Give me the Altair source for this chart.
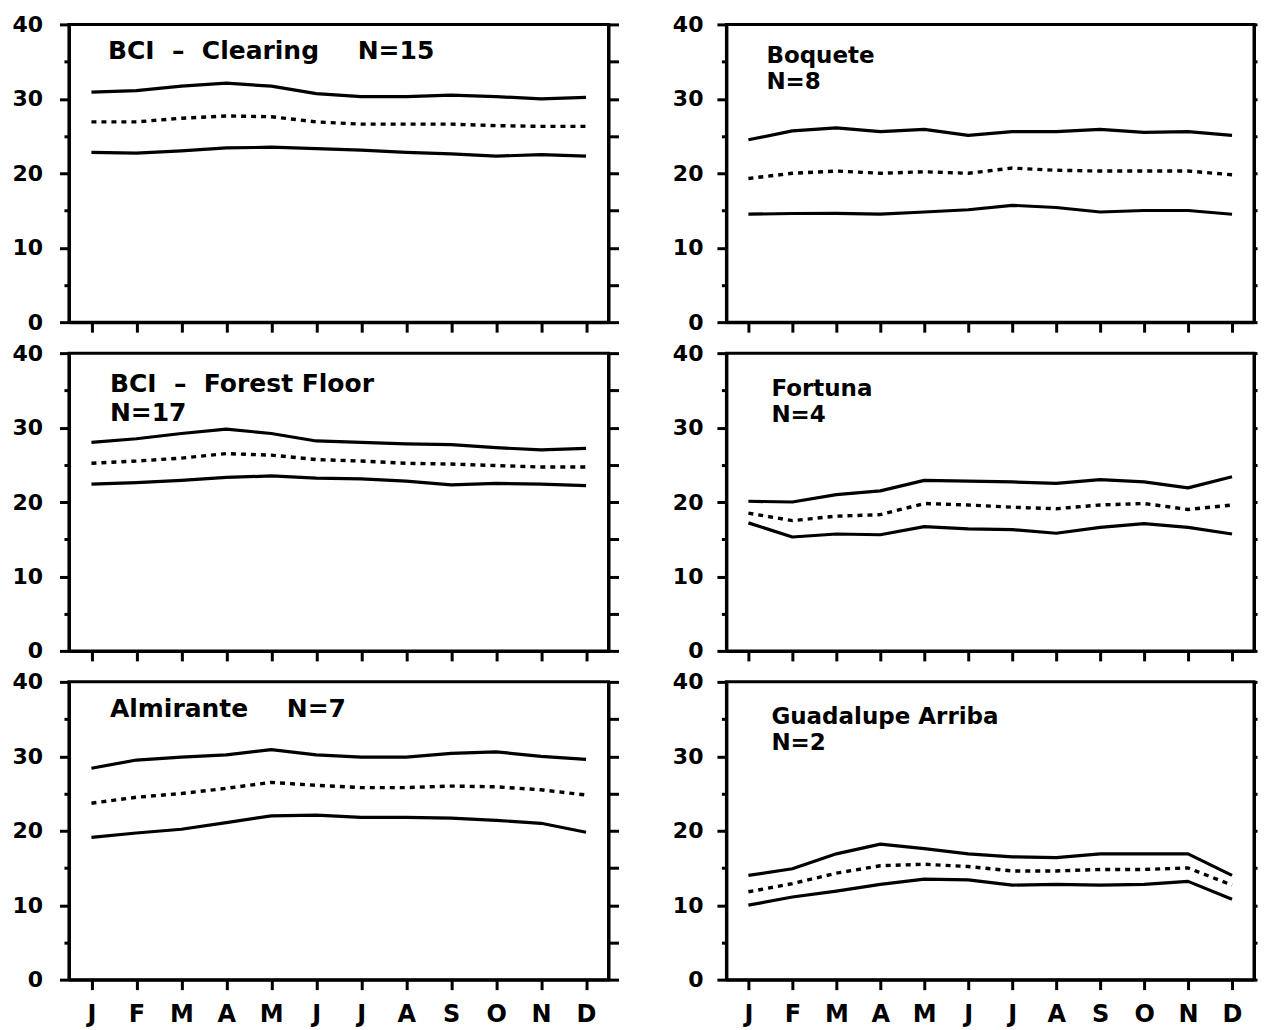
import altair as alt
import pandas as pd

# ---------------- data ----------------
MONTHS = [1, 2, 3, 4, 5, 6, 7, 8, 9, 10, 11, 12]
MONTH_LABELS = ["J", "F", "M", "A", "M", "J", "J", "A", "S", "O", "N", "D"]
Y_TICKS = [0, 5, 10, 15, 20, 25, 30, 35, 40]

clearing_max = [30.9, 31.1, 31.7, 32.1, 31.7, 30.7, 30.3, 30.3, 30.5, 30.3, 30.0, 30.2]
clearing_mean = [26.9, 26.9, 27.4, 27.7, 27.6, 26.9, 26.6, 26.6, 26.6, 26.4, 26.3, 26.3]
clearing_min = [22.8, 22.7, 23.0, 23.4, 23.5, 23.3, 23.1, 22.8, 22.6, 22.3, 22.5, 22.3]

forest_max = [28.0, 28.5, 29.2, 29.8, 29.2, 28.2, 28.0, 27.8, 27.7, 27.3, 27.0, 27.2]
forest_mean = [25.2, 25.5, 25.9, 26.5, 26.3, 25.7, 25.5, 25.2, 25.1, 24.9, 24.7, 24.7]
forest_min = [22.4, 22.6, 22.9, 23.3, 23.5, 23.2, 23.1, 22.8, 22.3, 22.5, 22.4, 22.2]

almirante_max = [28.4, 29.5, 29.9, 30.2, 30.9, 30.2, 29.9, 29.9, 30.4, 30.6, 30.0, 29.6]
almirante_mean = [23.7, 24.5, 25.0, 25.7, 26.5, 26.1, 25.8, 25.8, 26.0, 25.9, 25.5, 24.8]
almirante_min = [19.1, 19.7, 20.2, 21.1, 22.0, 22.1, 21.8, 21.8, 21.7, 21.4, 21.0, 19.8]

boquete_max = [24.5, 25.7, 26.1, 25.6, 25.9, 25.1, 25.6, 25.6, 25.9, 25.5, 25.6, 25.1]
boquete_mean = [19.3, 20.0, 20.3, 20.0, 20.2, 20.0, 20.7, 20.4, 20.3, 20.3, 20.3, 19.8]
boquete_min = [14.5, 14.6, 14.6, 14.5, 14.8, 15.1, 15.7, 15.4, 14.8, 15.0, 15.0, 14.5]

fortuna_max = [20.1, 20.0, 21.0, 21.5, 22.9, 22.8, 22.7, 22.5, 23.0, 22.7, 21.9, 23.4]
fortuna_mean = [18.5, 17.5, 18.1, 18.3, 19.8, 19.6, 19.3, 19.1, 19.6, 19.8, 19.0, 19.6]
fortuna_min = [17.2, 15.3, 15.7, 15.6, 16.7, 16.4, 16.3, 15.8, 16.6, 17.1, 16.6, 15.7]

guadalupe_max = [14.0, 14.9, 16.9, 18.2, 17.6, 16.9, 16.5, 16.4, 16.9, 16.9, 16.9, 14.0]
guadalupe_mean = [11.8, 12.9, 14.3, 15.3, 15.5, 15.2, 14.6, 14.6, 14.8, 14.8, 15.0, 12.7]
guadalupe_min = [10.0, 11.1, 11.9, 12.8, 13.5, 13.4, 12.7, 12.8, 12.7, 12.8, 13.2, 10.8]

NB = "\u00a0"
STATION_NAMES = ["BCI" + NB * 2 + "\u2013" + NB * 2 + "Clearing",
                 "BCI" + NB * 2 + "\u2013" + NB * 2 + "Forest" + NB + "Floor",
                 "Almirante", "Boquete", "Fortuna", "Guadalupe Arriba"]
STATION_N = ["N=15", "N=17", "N=7", "N=8", "N=4", "N=2"]

FONT = "DejaVu Sans"
LABEL_EXPR_X = "[" + ",".join("'%s'" % m for m in MONTH_LABELS) + "][datum.value - 1]"


def panel(maxv, meanv, minv, texts, font_size, show_x_labels, width, height,
          right_tick, y_label_pad):
    solid_df = pd.DataFrame({
        "month": MONTHS + MONTHS,
        "temp": maxv + minv,
        "series": ["max"] * 12 + ["min"] * 12,
    })
    mean_df = pd.DataFrame({"month": MONTHS, "temp": meanv})

    x_scale = alt.Scale(domain=[0.5, 12.5], nice=False, zero=False)
    x_axis = alt.Axis(
        values=MONTHS, title=None, grid=False, tickSize=10, tickWidth=3,
        domainWidth=3, labels=show_x_labels, labelExpr=LABEL_EXPR_X,
        labelFontSize=24, labelPadding=13,
    )
    y_scale = alt.Scale(domain=[0, 40], nice=False, zero=True)

    solid = alt.Chart(solid_df).mark_line(
        color="black", strokeWidth=3.2, strokeJoin="round"
    ).encode(
        x=alt.X("month:Q", scale=x_scale, axis=x_axis),
        y=alt.Y("temp:Q", scale=y_scale, axis=alt.Axis(
            orient="left", values=Y_TICKS, title=None, grid=False,
            tickSize={"condition": {"test": "datum.value % 10 === 0", "value": 9.5}, "value": 5},
            tickWidth=3, domainWidth=3,
            labelExpr="datum.value % 10 === 0 ? datum.label : ''",
            labelFontSize=22, labelPadding=y_label_pad,
        )),
        detail="series:N",
    )
    dotted = alt.Chart(mean_df).mark_line(
        color="black", strokeWidth=3.4, strokeDash=[5, 5], strokeCap="butt"
    ).encode(
        x=alt.X("month:Q", scale=x_scale, axis=x_axis),
        y=alt.Y("temp:Q", scale=y_scale, axis=alt.Axis(
            orient="right", values=Y_TICKS, title=None, grid=False, labels=False,
            tickSize=right_tick, tickWidth=3, domainWidth=3,
        )),
    )
    layers = [solid, dotted]
    for txt, px, py in texts:
        layers.append(
            alt.Chart(pd.DataFrame({"label": [txt]})).mark_text(
                align="left", baseline="alphabetic", font=FONT, fontSize=font_size,
                fontWeight="bold", color="black"
            ).encode(x=alt.value(px), y=alt.value(py), text="label:N")
        )
    return alt.layer(*layers).resolve_axis(y="independent").properties(
        width=width, height=height
    )


W_L, W_R, H = 540, 528, 298

p1 = panel(clearing_max, clearing_mean, clearing_min,
           [(STATION_NAMES[0], 39, 35), (STATION_N[0], 289, 35)], 25, False, W_L, H, 10, 17)
p2 = panel(forest_max, forest_mean, forest_min,
           [(STATION_NAMES[1], 41, 39), (STATION_N[1], 41, 68)], 25, False, W_L, H, 10, 17)
p3 = panel(almirante_max, almirante_mean, almirante_min,
           [(STATION_NAMES[2], 41, 35), (STATION_N[2], 218, 35)], 25, True, W_L, H, 10, 17)
p4 = panel(boquete_max, boquete_mean, boquete_min,
           [(STATION_NAMES[3], 40, 39), (STATION_N[3], 40, 65)], 23, False, W_R, H, 3, 14)
p5 = panel(fortuna_max, fortuna_mean, fortuna_min,
           [(STATION_NAMES[4], 45, 43), (STATION_N[4], 45, 69)], 23, False, W_R, H, 3, 14)
p6 = panel(guadalupe_max, guadalupe_mean, guadalupe_min,
           [(STATION_NAMES[5], 45, 42), (STATION_N[5], 45, 68)], 23, True, W_R, H, 3, 14)

left = alt.vconcat(p1, p2, p3, spacing=5)
right = alt.vconcat(p4, p5, p6, spacing=5)

chart = alt.hconcat(left, right, spacing=49).properties(
    padding={"left": 2, "top": 3, "right": 0, "bottom": 0},
    background="white",
).configure_view(
    stroke="black", strokeWidth=3
).configure_axis(
    labelFont=FONT, labelFontWeight="bold", labelColor="black",
    tickColor="black", domainColor="black",
)

chart.save("out.html", embed_options={"renderer": "svg", "actions": False})
